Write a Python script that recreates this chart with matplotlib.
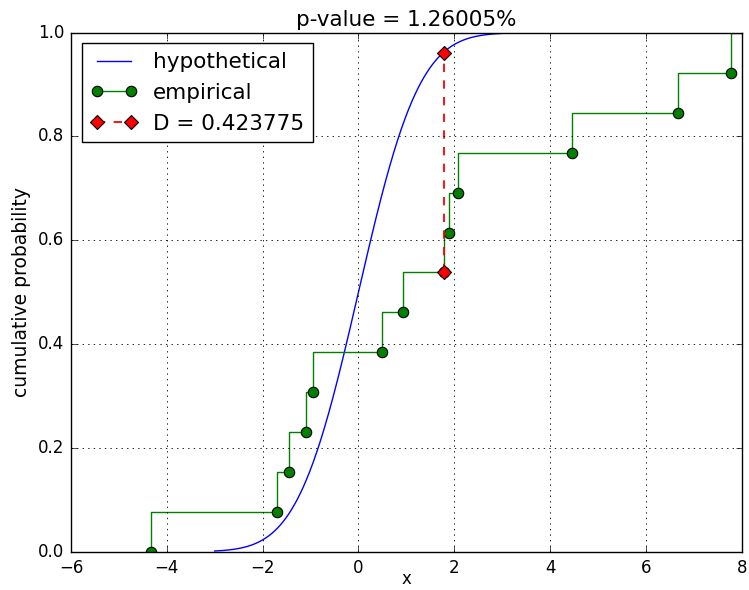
import math
import numpy as np
import matplotlib
matplotlib.use("Agg")
import matplotlib.pyplot as plt

plt.style.use("classic")

# Sorted sample and its empirical CDF values
sample_x = [-4.32, -1.71, -1.455, -1.094, -0.955, 0.50, 0.925,
            1.777, 1.885, 2.086, 4.46, 6.666, 7.78]
empirical_y = [0.000, 0.077, 0.154, 0.231, 0.308, 0.385, 0.462,
               0.538, 0.615, 0.692, 0.769, 0.846, 0.923]

# Hypothetical distribution: normal with these parameters
mu, sigma = 0.0, 1.0
hyp_range = (-3.0, 3.0)

# Kolmogorov-Smirnov statistic and where it occurs
D_value = 0.423775
D_index = 7
p_value_pct = 1.26005


def normal_cdf(x):
    return 0.5 * (1.0 + math.erf((x - mu) / (sigma * math.sqrt(2.0))))


fig = plt.figure(figsize=(7.49, 5.90), dpi=100, facecolor="white")
ax = fig.add_axes([0.0948, 0.0649, 0.8955, 0.8797])

xs = np.linspace(hyp_range[0], hyp_range[1], 400)
ax.plot(xs, [normal_cdf(v) for v in xs], color="blue", lw=1.0,
        label="hypothetical")

# Step function continues up to 1 past the last observation
step_x = list(sample_x) + [sample_x[-1] + 10.0]
step_y = list(empirical_y) + [1.0]
ax.plot(step_x, step_y, color="green", lw=1.0, drawstyle="steps-pre",
        marker="o", markersize=7.5, markerfacecolor="green",
        markeredgecolor="black", markeredgewidth=0.8, label="empirical")

xd = sample_x[D_index]
yd = empirical_y[D_index]
ax.plot([xd, xd], [yd, yd + D_value], color="red", lw=1.3, ls="--",
        marker="D", markersize=7.5, markerfacecolor="red",
        markeredgecolor="black", markeredgewidth=0.8,
        label="D = %g" % D_value)

ax.set_xlim(-6, 8)
ax.set_ylim(0.0, 1.0)
ax.grid(True, color="black", linestyle=":", linewidth=0.6)
ax.tick_params(labelsize=12, pad=5)
ax.set_xlabel("x", fontsize=12, labelpad=-5)
ax.set_ylabel("cumulative probability", fontsize=13.5)
ax.set_title("p-value = %g%%" % p_value_pct, fontsize=15.5)
ax.legend(loc="upper left", fontsize=15.5, numpoints=2, handlelength=2.2,
          handletextpad=0.7, borderaxespad=0.5)

fig.savefig("out.png", dpi=100, facecolor="white")
